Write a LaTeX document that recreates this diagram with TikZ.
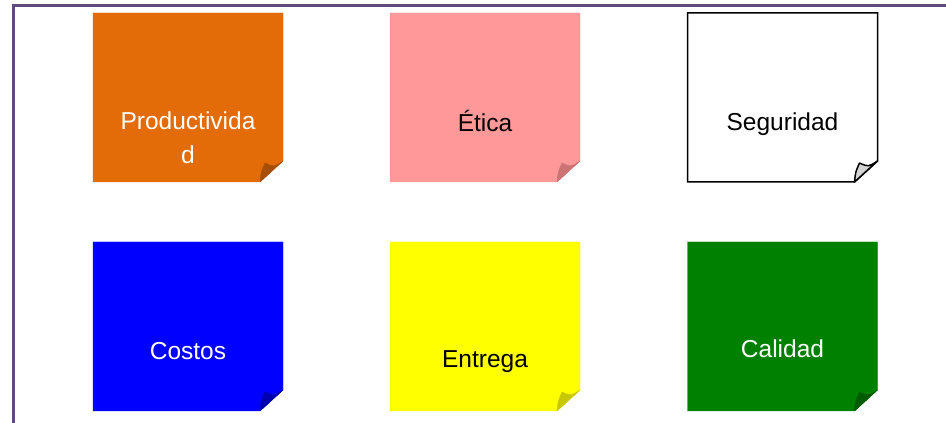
\documentclass[tikz,border=0pt]{standalone}
\usepackage{fontspec}
\setmainfont{Liberation Sans}
\usetikzlibrary{backgrounds}
\definecolor{framecol}{HTML}{604A7B}
\definecolor{orangenote}{HTML}{E36C09}
\definecolor{orangefold}{HTML}{A84F06}
\definecolor{pinknote}{HTML}{FF9999}
\definecolor{pinkfold}{HTML}{CC7373}
\definecolor{bluenote}{HTML}{0000FF}
\definecolor{bluefold}{HTML}{0000B0}
\definecolor{yellownote}{HTML}{FFFF00}
\definecolor{yellowfold}{HTML}{C8C800}
\definecolor{greennote}{HTML}{008000}
\definecolor{greenfold}{HTML}{005A00}
\definecolor{grayfold}{HTML}{D4D4D4}
\tikzset{
  notebox/.style={minimum width=190pt, minimum height=169pt, inner sep=0pt, outer sep=0pt},
  lbl/.style={font=\fontsize{24.5}{34}\selectfont, align=center, inner sep=0pt},
}
\newcommand{\stickynote}[4]{%
  \filldraw[fill=#2, draw=#3, line width=#4] (#1.north west) -- (#1.north east) -- ([yshift=21pt]#1.south east) -- ([xshift=-23pt]#1.south east) -- (#1.south west) -- cycle;
}
\newcommand{\stickyfold}[4]{%
  \filldraw[fill=#2, draw=#3, line width=#4, line join=round] ([xshift=-23pt]#1.south east) .. controls ([xshift=-22pt,yshift=10pt]#1.south east) .. ([xshift=-18pt,yshift=19pt]#1.south east) .. controls ([xshift=-9pt,yshift=15pt]#1.south east) .. ([yshift=21pt]#1.south east) -- cycle;
}
\begin{document}
\begin{tikzpicture}[x=1pt,y=1pt]
\useasboundingbox (0,0) rectangle (946,423);
\draw[framecol, line width=3pt] (13,-2) -- (13,417) -- (948,417);
% notes
\node[notebox] (prod) at (188,325.5) {};
\node[notebox] (etica) at (485,325.5) {};
\node[notebox] (seg) at (782.5,325.5) {};
\node[notebox] (cost) at (188,96.5) {};
\node[notebox] (entr) at (485,96.5) {};
\node[notebox] (cal) at (782.5,96.5) {};
\stickynote{prod}{orangenote}{orangenote}{0.4pt}
\stickynote{etica}{pinknote}{pinknote}{0.4pt}
\stickynote{seg}{white}{black}{1.5pt}
\stickynote{cost}{bluenote}{bluenote}{0.4pt}
\stickynote{entr}{yellownote}{yellownote}{0.4pt}
\stickynote{cal}{greennote}{greennote}{0.4pt}
\stickyfold{prod}{orangefold}{orangefold}{0.4pt}
\stickyfold{etica}{pinkfold}{pinkfold}{0.4pt}
\stickyfold{seg}{grayfold}{black}{1.5pt}
\stickyfold{cost}{bluefold}{bluefold}{0.4pt}
\stickyfold{entr}{yellowfold}{yellowfold}{0.4pt}
\stickyfold{cal}{greenfold}{greenfold}{0.4pt}
% labels
\node[lbl, text=white] (tprod) at (188,285) {Productivida\\d};
\node[lbl, text=black] (tetica) at (485,302) {Ética};
\node[lbl, text=black] (tseg) at (782.5,299) {Seguridad};
\node[lbl, text=white] (tcost) at (188,72) {Costos};
\node[lbl, text=black] (tentr) at (485,61) {Entrega};
\node[lbl, text=white] (tcal) at (782.5,74) {Calidad};
\end{tikzpicture}
\end{document}
